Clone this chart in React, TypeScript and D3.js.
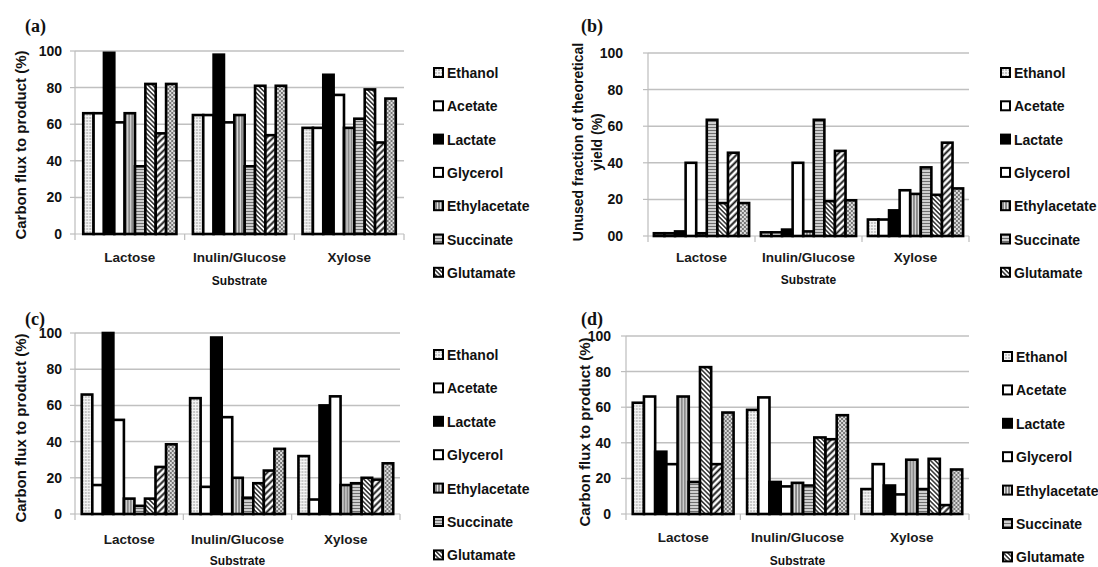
import React from "react";
import * as d3 from "d3";

const categories = ["Lactose", "Inulin/Glucose", "Xylose"];
const seriesNames = ["Ethanol", "Acetate", "Lactate", "Glycerol", "Ethylacetate", "Succinate", "Glutamate", "Series8", "Series9"];
const legendNames = ["Ethanol", "Acetate", "Lactate", "Glycerol", "Ethylacetate", "Succinate", "Glutamate"];
const yTicks = [0, 20, 40, 60, 80, 100];
const yTickLabels = ["0", "20", "40", "60", "80", "100"];
const yTickLabelsB = ["00", "20", "40", "60", "80", "100"];

// Panel (a): carbon flux to product
const aLactose = [66, 66, 99, 61, 66, 37, 82, 55, 82];
const aInulin = [65, 65, 98, 61, 65, 37, 81, 54, 81];
const aXylose = [58, 58, 87, 76, 58, 63, 79, 50, 74];

// Panel (b): unused fraction of theoretical yield
const bLactose = [1.5, 1.5, 2.5, 40, 1.5, 63.5, 18, 45.5, 18];
const bInulin = [2, 2, 3.5, 40, 2.5, 63.5, 19, 46.5, 19.5];
const bXylose = [9, 9, 14, 25, 23, 37.5, 22.5, 51, 26];

// Panel (c)
const cLactose = [66, 16, 100, 52, 8.5, 4.5, 8.5, 26, 38.5];
const cInulin = [64, 15, 97.5, 53.5, 20, 9, 17, 24, 36];
const cXylose = [32, 8, 60, 65, 16, 17, 20, 19, 28];

// Panel (d)
const dLactose = [62.5, 66, 35, 28, 66, 18, 82.5, 28, 57];
const dInulin = [58.5, 65.5, 18, 15.5, 17.5, 16, 43, 42, 55.5];
const dXylose = [14, 28, 16, 11, 30.5, 14, 31, 5, 25];

const fills = ["url(#pDots)", "#ffffff", "#000000", "#ffffff", "url(#pVert)", "url(#pHoriz)", "url(#pDiagDense)", "url(#pDiagWide)", "url(#pCheck)"];

const FONT = "'Liberation Sans', Arial, sans-serif";

type Cfg = {
  letter: string; lx: number; ly: number;
  data: number[][];
  x0: number; x1: number; y0: number; y100: number; pad: number;
  labelRight: number; tickLabels: string[];
  legendX: number; legendY0: number; legendStep: number;
  catY: number; subY: number;
  titles: string[]; titleXs: number[]; titleY: number; titleSize: number;
};

const panels: Cfg[] = [
  {
    letter: "(a)", lx: 25, ly: 32, data: [aLactose, aInulin, aXylose],
    x0: 75, x1: 404, y0: 234, y100: 51, pad: 0.15, labelRight: 62, tickLabels: yTickLabels,
    legendX: 433, legendY0: 73, legendStep: 33.3, catY: 257, subY: 281,
    titles: ["Carbon flux to product (%)"], titleXs: [20], titleY: 145, titleSize: 15,
  },
  {
    letter: "(b)", lx: 581, ly: 32, data: [bLactose, bInulin, bXylose],
    x0: 648, x1: 969, y0: 236, y100: 53, pad: 0.11, labelRight: 623, tickLabels: yTickLabelsB,
    legendX: 1000, legendY0: 73, legendStep: 33.3, catY: 257, subY: 280,
    titles: ["Unused fraction of theoretical", "yield (%)"], titleXs: [578, 597], titleY: 142, titleSize: 14,
  },
  {
    letter: "(c)", lx: 25, ly: 325, data: [cLactose, cInulin, cXylose],
    x0: 75, x1: 400, y0: 514, y100: 333, pad: 0.125, labelRight: 62, tickLabels: yTickLabels,
    legendX: 433, legendY0: 355, legendStep: 33.4, catY: 539, subY: 561,
    titles: ["Carbon flux to product (%)"], titleXs: [20], titleY: 428, titleSize: 15,
  },
  {
    letter: "(d)", lx: 581, ly: 325, data: [dLactose, dInulin, dXylose],
    x0: 626, x1: 969, y0: 514, y100: 336, pad: 0.118, labelRight: 611, tickLabels: yTickLabels,
    legendX: 1002, legendY0: 357, legendStep: 33.4, catY: 537, subY: 561,
    titles: ["Carbon flux to product (%)"], titleXs: [584], titleY: 432, titleSize: 15,
  },
];

function Panel({ cfg }: { cfg: Cfg }) {
  const x = d3.scaleBand<string>().domain(categories).range([cfg.x0, cfg.x1]).paddingInner(cfg.pad).paddingOuter(cfg.pad / 2);
  const xs = d3.scaleBand<string>().domain(seriesNames).range([0, x.bandwidth()]);
  const y = d3.scaleLinear().domain([0, 100]).range([cfg.y0, cfg.y100]);
  const step = (cfg.x1 - cfg.x0) / categories.length;
  const bounds = d3.range(categories.length + 1).map((i) => cfg.x0 + i * step);
  return (
    <g>
      <text x={cfg.lx} y={cfg.ly} fontFamily="'Liberation Serif', 'Times New Roman', serif" fontWeight="bold" fontSize={18} fill="#111">{cfg.letter}</text>
      {yTicks.filter((t) => t > 0).map((t) => (
        <line key={"g" + t} x1={cfg.x0} x2={cfg.x1} y1={y(t)} y2={y(t)} stroke="#c0c0c0" strokeWidth={1.5} />
      ))}
      <line x1={cfg.x0} x2={cfg.x0} y1={cfg.y0} y2={y(100)} stroke="#bdbdbd" strokeWidth={1.2} />
      <line x1={cfg.x0} x2={cfg.x1} y1={cfg.y0} y2={cfg.y0} stroke="#bdbdbd" strokeWidth={1.2} />
      {yTicks.map((t) => (
        <line key={"t" + t} x1={cfg.x0 - 5} x2={cfg.x0} y1={y(t)} y2={y(t)} stroke="#bdbdbd" strokeWidth={1.2} />
      ))}
      {bounds.map((b, i) => (
        <line key={"xb" + i} x1={b} x2={b} y1={cfg.y0} y2={cfg.y0 + 6} stroke="#bdbdbd" strokeWidth={1.2} />
      ))}
      {yTicks.map((t, i) => (
        <text key={"l" + t} x={cfg.labelRight} y={y(t)} textAnchor="end" dominantBaseline="central" fontFamily={FONT} fontWeight="bold" fontSize={14} fill="#111">{cfg.tickLabels[i]}</text>
      ))}
      {categories.map((c, ci) => (
        <g key={c} transform={`translate(${x(c)},0)`}>
          {seriesNames.map((s, si) => {
            const v = cfg.data[ci][si];
            return (
              <rect key={s} x={xs(s)} y={y(v)} width={xs.bandwidth()} height={cfg.y0 - y(v)} fill={fills[si]} stroke="#000" strokeWidth={2.6} />
            );
          })}
        </g>
      ))}
      {categories.map((c) => (
        <text key={"c" + c} x={(x(c) as number) + x.bandwidth() / 2} y={cfg.catY} textAnchor="middle" dominantBaseline="central" fontFamily={FONT} fontWeight="bold" fontSize={13.5} fill="#1a1a1a">{c}</text>
      ))}
      <text x={(cfg.x0 + cfg.x1) / 2} y={cfg.subY} textAnchor="middle" dominantBaseline="central" fontFamily={FONT} fontWeight="bold" fontSize={12} fill="#111">Substrate</text>
      {cfg.titles.map((t, i) => (
        <text key={"ti" + i} transform={`translate(${cfg.titleXs[i]},${cfg.titleY}) rotate(-90)`} textAnchor="middle" dominantBaseline="central" fontFamily={FONT} fontWeight="bold" fontSize={cfg.titleSize} fill="#111">{t}</text>
      ))}
      {legendNames.map((n, i) => {
        const ly = cfg.legendY0 + i * cfg.legendStep;
        return (
          <g key={"lg" + n}>
            <rect x={cfg.legendX + 1} y={ly - 5} width={9} height={9} fill={fills[i]} stroke="#000" strokeWidth={2} />
            <text x={cfg.legendX + 14} y={ly} dominantBaseline="central" fontFamily={FONT} fontWeight="bold" fontSize={14} fill="#111">{n}</text>
          </g>
        );
      })}
    </g>
  );
}

export default function App() {
  return (
    <svg width={1098} height={567} style={{ position: "absolute", left: 0, top: 0, background: "#fff" }}>
      <defs>
        <pattern id="pDots" patternUnits="userSpaceOnUse" width={3} height={3}>
          <rect width={3} height={3} fill="#f4f4f4" />
          <circle cx={1} cy={1} r={0.7} fill="#777" />
        </pattern>
        <pattern id="pVert" patternUnits="userSpaceOnUse" width={3} height={3}>
          <rect width={3} height={3} fill="#e2e2e2" />
          <line x1={1} x2={1} y1={0} y2={3} stroke="#333" strokeWidth={1} />
        </pattern>
        <pattern id="pHoriz" patternUnits="userSpaceOnUse" width={3} height={3}>
          <rect width={3} height={3} fill="#cfcfcf" />
          <line x1={0} x2={3} y1={1.5} y2={1.5} stroke="#555" strokeWidth={0.8} />
        </pattern>
        <pattern id="pDiagDense" patternUnits="userSpaceOnUse" width={3.2} height={3.2} patternTransform="rotate(-45)">
          <rect width={3.2} height={3.2} fill="#fff" />
          <line x1={1.6} x2={1.6} y1={0} y2={3.2} stroke="#222" strokeWidth={1.4} />
        </pattern>
        <pattern id="pDiagWide" patternUnits="userSpaceOnUse" width={4.6} height={4.6} patternTransform="rotate(45)">
          <rect width={4.6} height={4.6} fill="#fff" />
          <line x1={2.3} x2={2.3} y1={0} y2={4.6} stroke="#111" strokeWidth={1.9} />
        </pattern>
        <pattern id="pCheck" patternUnits="userSpaceOnUse" width={4} height={4}>
          <rect width={4} height={4} fill="#dcdcdc" />
          <rect x={0} y={0} width={2} height={2} fill="#777" />
          <rect x={2} y={2} width={2} height={2} fill="#777" />
        </pattern>
      </defs>
      <rect width={1098} height={567} fill="#fff" />
      {panels.map((p) => (
        <Panel key={p.letter} cfg={p} />
      ))}
    </svg>
  );
}
